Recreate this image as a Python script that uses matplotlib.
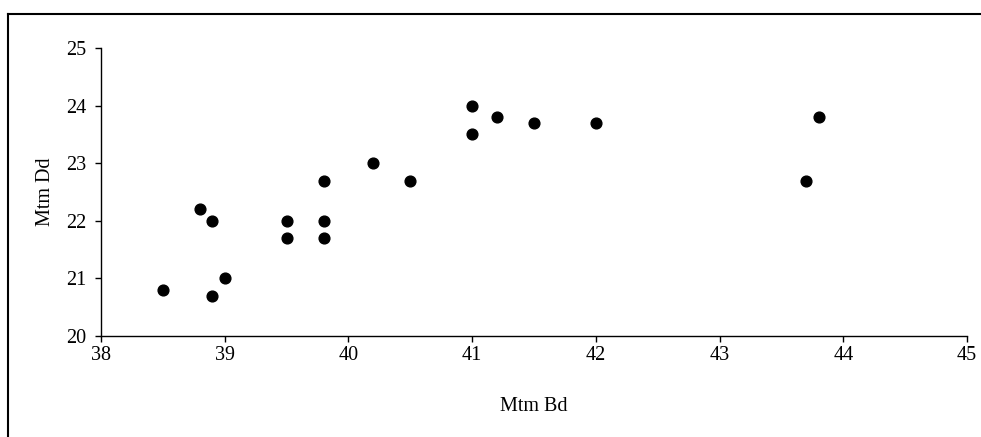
import matplotlib
matplotlib.use("Agg")
import matplotlib.pyplot as plt
from matplotlib.lines import Line2D

# Data
mtm_bd = [38.5, 38.8, 38.9, 38.9, 39.0, 39.5, 39.5, 39.8, 39.8, 39.8,
          40.2, 40.5, 41.0, 41.0, 41.2, 41.5, 42.0, 43.7, 43.8]
mtm_dd = [20.8, 22.2, 22.0, 20.7, 21.0, 22.0, 21.7, 22.7, 22.0, 21.7,
          23.0, 22.7, 24.0, 23.5, 23.8, 23.7, 23.7, 22.7, 23.8]
x_ticks = [38, 39, 40, 41, 42, 43, 44, 45]
y_ticks = [20, 21, 22, 23, 24, 25]

plt.rcParams["font.family"] = ["Liberation Serif", "DejaVu Serif"]

fig = plt.figure(figsize=(9.81, 4.37), dpi=100)
ax = fig.add_axes([0.103, 0.231, 0.8827, 0.659])

ax.scatter(mtm_bd, mtm_dd, s=60, color="black", zorder=3, clip_on=False)

ax.set_xlim(38, 45)
ax.set_ylim(20, 25)
ax.set_xticks(x_ticks)
ax.set_yticks(y_ticks)
ax.tick_params(direction="out", length=4.5, width=1, labelsize=14.5)
ax.tick_params(axis="x", pad=3)
ax.tick_params(axis="y", pad=6)

for side in ["top", "right"]:
    ax.spines[side].set_visible(False)
for side in ["left", "bottom"]:
    ax.spines[side].set_linewidth(1)

ax.set_xlabel("Mtm Bd", fontsize=14.5, labelpad=23)
ax.set_ylabel("Mtm Dd", fontsize=14.5, labelpad=8)

# outer chart frame (only top and left edges visible in the picture)
fig.add_artist(Line2D([8 / 981, 1.0], [1 - 14 / 437, 1 - 14 / 437],
                      transform=fig.transFigure, color="black", lw=1.5))
fig.add_artist(Line2D([8 / 981, 8 / 981], [0.0, 1 - 14 / 437],
                      transform=fig.transFigure, color="black", lw=1.5))

fig.savefig("out.png", dpi=100)
